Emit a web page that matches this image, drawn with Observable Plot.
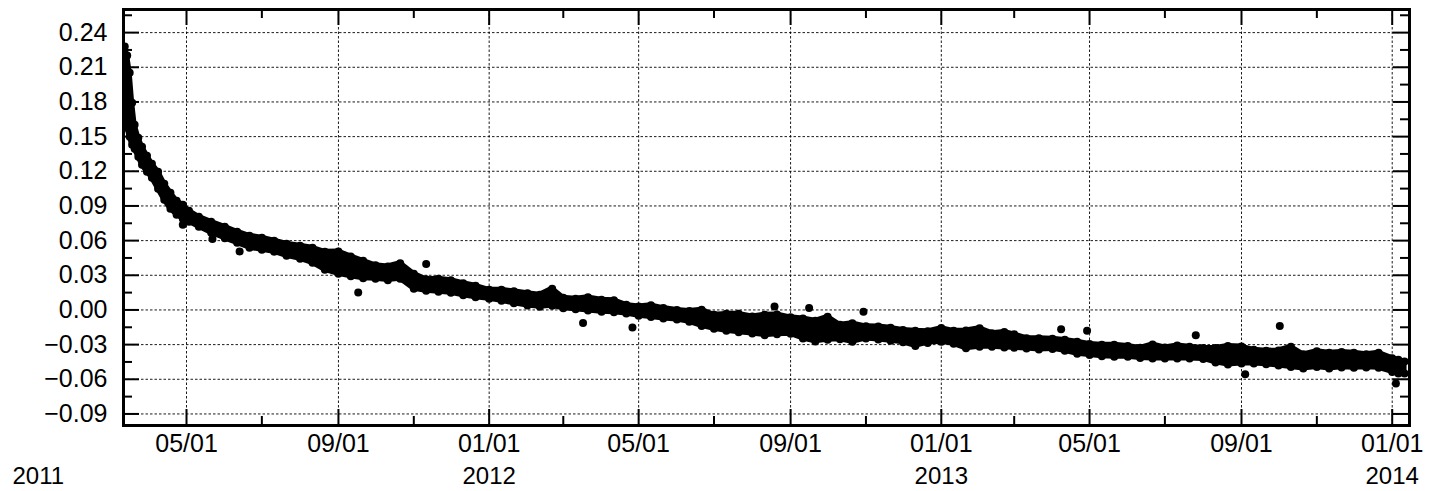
<!DOCTYPE html>
<html>
<head>
<meta charset="utf-8">
<script src="https://cdn.jsdelivr.net/npm/d3@7"></script>
<script src="https://cdn.jsdelivr.net/npm/@observablehq/plot@0.6"></script>
<style>
  html, body { margin: 0; padding: 0; background: #fff; }
</style>
</head>
<body>
<div id="chart"></div>
<script>
// ---- Data ----
// Band of dense daily points: sampled dates with the upper and lower extent of the cloud
const sampleDates = [
  "2011-03-12","2011-03-14","2011-03-16","2011-03-18","2011-03-20","2011-03-23","2011-03-26",
  "2011-03-30","2011-04-03","2011-04-08","2011-04-13","2011-04-18","2011-04-23",
  "2011-04-28","2011-05-03","2011-05-11","2011-05-21","2011-06-01","2011-06-11","2011-06-21",
  "2011-07-01","2011-07-11","2011-07-21","2011-08-01","2011-08-11","2011-08-21",
  "2011-09-01","2011-09-11","2011-09-21","2011-10-01","2011-10-11","2011-10-21",
  "2011-11-01","2011-11-11","2011-11-21","2011-12-01","2011-12-11","2011-12-21",
  "2012-01-01","2012-01-11","2012-01-21","2012-02-01","2012-02-11","2012-02-21",
  "2012-03-01","2012-03-11","2012-03-21","2012-04-01","2012-04-11","2012-04-21",
  "2012-05-01","2012-05-11","2012-05-21","2012-06-01","2012-06-11","2012-06-21",
  "2012-07-01","2012-07-11","2012-07-21","2012-08-01","2012-08-11","2012-08-21",
  "2012-09-01","2012-09-11","2012-09-21","2012-10-01","2012-10-11","2012-10-21",
  "2012-11-01","2012-11-11","2012-11-21","2012-12-01","2012-12-11","2012-12-21",
  "2013-01-01","2013-01-11","2013-01-21","2013-02-01","2013-02-11","2013-02-21",
  "2013-03-01","2013-03-11","2013-03-21","2013-04-01","2013-04-11","2013-04-21",
  "2013-05-01","2013-05-11","2013-05-21","2013-06-01","2013-06-11","2013-06-21",
  "2013-07-01","2013-07-11","2013-07-21","2013-08-01","2013-08-11","2013-08-21",
  "2013-09-01","2013-09-11","2013-09-21","2013-10-01","2013-10-11","2013-10-21",
  "2013-11-01","2013-11-11","2013-11-21","2013-12-01","2013-12-11","2013-12-21",
  "2014-01-01","2014-01-06","2014-01-11"
];
const upperValues = [
  0.2279,0.2201,0.2053,0.1794,0.1603,0.1491,0.1413,
  0.1335,0.1265,0.1196,0.1092,0.1014,0.0945,
  0.0910,0.0858,0.0806,0.0763,0.0720,0.0677,0.0642,
  0.0625,0.0599,0.0573,0.0555,0.0538,0.0503,
  0.0506,0.0463,0.0425,0.0386,0.0376,0.0404,
  0.0313,0.0265,0.0270,0.0257,0.0231,0.0209,
  0.0174,0.0174,0.0161,0.0144,0.0131,0.0183,
  0.0105,0.0096,0.0109,0.0088,0.0083,0.0044,
  0.0030,0.0040,0.0016,-0.0001,-0.0009,0.0001,
  -0.0042,-0.0034,-0.0034,-0.0057,-0.0042,-0.0040,
  -0.0064,-0.0073,-0.0094,-0.0059,-0.0129,-0.0116,
  -0.0142,-0.0144,-0.0155,-0.0174,-0.0181,-0.0185,
  -0.0157,-0.0181,-0.0177,-0.0159,-0.0201,-0.0190,
  -0.0211,-0.0244,-0.0244,-0.0250,-0.0259,-0.0276,
  -0.0295,-0.0302,-0.0302,-0.0311,-0.0328,-0.0298,
  -0.0325,-0.0308,-0.0319,-0.0330,-0.0330,-0.0311,
  -0.0317,-0.0345,-0.0354,-0.0350,-0.0319,-0.0384,
  -0.0358,-0.0371,-0.0363,-0.0371,-0.0384,-0.0371,
  -0.0417,-0.0432,-0.0447
];
const lowerValues = [
  0.1707,0.1577,0.1499,0.1430,0.1395,0.1326,0.1257,
  0.1196,0.1144,0.1049,0.0954,0.0876,0.0824,
  0.0789,0.0763,0.0720,0.0668,0.0620,0.0581,0.0538,
  0.0521,0.0503,0.0469,0.0443,0.0408,0.0348,
  0.0313,0.0291,0.0274,0.0270,0.0258,0.0270,
  0.0183,0.0166,0.0157,0.0148,0.0127,0.0109,
  0.0096,0.0079,0.0057,0.0038,0.0027,0.0036,
  0.0014,0.0005,-0.0005,-0.0016,-0.0020,-0.0031,
  -0.0051,-0.0062,-0.0074,-0.0083,-0.0103,-0.0138,
  -0.0163,-0.0181,-0.0194,-0.0204,-0.0218,-0.0211,
  -0.0207,-0.0247,-0.0272,-0.0259,-0.0254,-0.0276,
  -0.0247,-0.0256,-0.0267,-0.0280,-0.0311,-0.0285,
  -0.0276,-0.0293,-0.0332,-0.0319,-0.0319,-0.0324,
  -0.0328,-0.0334,-0.0343,-0.0337,-0.0354,-0.0380,
  -0.0389,-0.0401,-0.0406,-0.0406,-0.0415,-0.0421,
  -0.0421,-0.0421,-0.0421,-0.0424,-0.0454,-0.0473,
  -0.0464,-0.0464,-0.0471,-0.0481,-0.0493,-0.0506,
  -0.0494,-0.0506,-0.0497,-0.0501,-0.0497,-0.0501,
  -0.0536,-0.0551,-0.0551
];
// Isolated points away from the band
const outlierDates = [
  "2011-04-28","2011-05-22","2011-06-13","2011-09-17","2011-11-11","2012-03-17",
  "2012-04-26","2012-08-19","2012-09-16","2012-10-30","2013-04-08","2013-04-29",
  "2013-07-26","2013-10-02","2013-09-04","2014-01-04"
];
const outlierValues = [
  0.0737,0.0613,0.0506,0.0151,0.0397,-0.0114,
  -0.0152,0.0030,0.0016,-0.0016,-0.0166,-0.0181,
  -0.0218,-0.0138,-0.0556,-0.0637
];
// Ticks
const xMajorTicks = ["2011-05-01","2011-09-01","2012-01-01","2012-05-01","2012-09-01","2013-01-01","2013-05-01","2013-09-01","2014-01-01"];
const xMinorTicks = ["2011-07-01","2011-11-01","2012-03-01","2012-07-01","2012-11-01","2013-03-01","2013-07-01","2013-11-01"];
const yearLabelDates = ["2011-01-01","2012-01-01","2013-01-01","2014-01-01"];
const yMajorTicks = [-0.09,-0.06,-0.03,0.00,0.03,0.06,0.09,0.12,0.15,0.18,0.21,0.24];
const yMinorTicks = [-0.075,-0.045,-0.015,0.015,0.045,0.075,0.105,0.135,0.165,0.195,0.225,0.255];
const xDomain = ["2011-03-11","2014-01-15"];
const yDomain = [-0.10, 0.26];

// ---- Build tables ----
const parse = d3.utcParse("%Y-%m-%d");
const band = sampleDates.map((d, i) => ({date: parse(d), hi: upperValues[i], lo: lowerValues[i]}));
const outliers = outlierDates.map((d, i) => ({date: parse(d), value: outlierValues[i]}));
const xMaj = xMajorTicks.map(parse);
const xMin = xMinorTicks.map(parse);
const years = yearLabelDates.map(parse);

const W = 1448, H = 491;
const mL = 123, mR = 39, mT = 9, mB = 66;
const fw = W - mL - mR, fh = H - mT - mB;
const majLen = 16, minLen = 9;
const FS = 25;
const fmtY = d => (d < 0 ? "\u2212" : "") + Math.abs(d).toFixed(2);

const chart = Plot.plot({
  width: W, height: H,
  marginLeft: mL, marginRight: mR, marginTop: mT, marginBottom: mB,
  style: {fontFamily: "'Liberation Sans', Arial, Helvetica, sans-serif", fontSize: FS + "px", background: "#fff", color: "#000"},
  x: {type: "utc", domain: xDomain.map(parse)},
  y: {domain: yDomain},
  marks: [
    // dotted grid
    Plot.ruleX(xMaj, {x: d => d, stroke: "#000", strokeWidth: 0.9, strokeDasharray: "2.5,2"}),
    Plot.ruleY(yMajorTicks, {y: d => d, stroke: "#000", strokeWidth: 0.9, strokeDasharray: "2.5,2"}),
    // dense band
    Plot.areaY(band, {x: "date", y1: "lo", y2: "hi", fill: "#000", stroke: "#000", strokeWidth: 5, strokeLinejoin: "round", clip: true}),
    Plot.dot(band, {x: "date", y: "hi", r: 4, fill: "#000", clip: true}),
    Plot.dot(band, {x: "date", y: "lo", r: 4, fill: "#000", clip: true}),
    Plot.dot(outliers, {x: "date", y: "value", r: 4, fill: "#000", clip: true}),
    // inward ticks on all four sides
    Plot.tickX(xMaj, {x: d => d, insetTop: fh - majLen, stroke: "#000", strokeWidth: 2}),
    Plot.tickX(xMaj, {x: d => d, insetBottom: fh - majLen, stroke: "#000", strokeWidth: 2}),
    Plot.tickX(xMin, {x: d => d, insetTop: fh - minLen, stroke: "#000", strokeWidth: 2}),
    Plot.tickX(xMin, {x: d => d, insetBottom: fh - minLen, stroke: "#000", strokeWidth: 2}),
    Plot.tickY(yMajorTicks, {y: d => d, insetRight: fw - majLen, stroke: "#000", strokeWidth: 2}),
    Plot.tickY(yMajorTicks, {y: d => d, insetLeft: fw - majLen, stroke: "#000", strokeWidth: 2}),
    Plot.tickY(yMinorTicks, {y: d => d, insetRight: fw - minLen, stroke: "#000", strokeWidth: 2}),
    Plot.tickY(yMinorTicks, {y: d => d, insetLeft: fw - minLen, stroke: "#000", strokeWidth: 2}),
    Plot.frame({stroke: "#000", strokeWidth: 3}),
    // labels
    Plot.axisY(yMajorTicks, {anchor: "left", tickSize: 0, tickPadding: 16, tickFormat: fmtY, label: null, fontSize: FS}),
    Plot.axisX(xMaj, {anchor: "bottom", tickSize: 0, tickPadding: 9, tickFormat: d3.utcFormat("%m/%d"), label: null, fontSize: FS}),
    Plot.text(years, {x: d => d, frameAnchor: "bottom", lineAnchor: "top", dy: 41, text: d => d3.utcFormat("%Y")(d), fontSize: 24, fill: "#000"})
  ]
});
document.getElementById("chart").appendChild(chart);
</script>
</body>
</html>
